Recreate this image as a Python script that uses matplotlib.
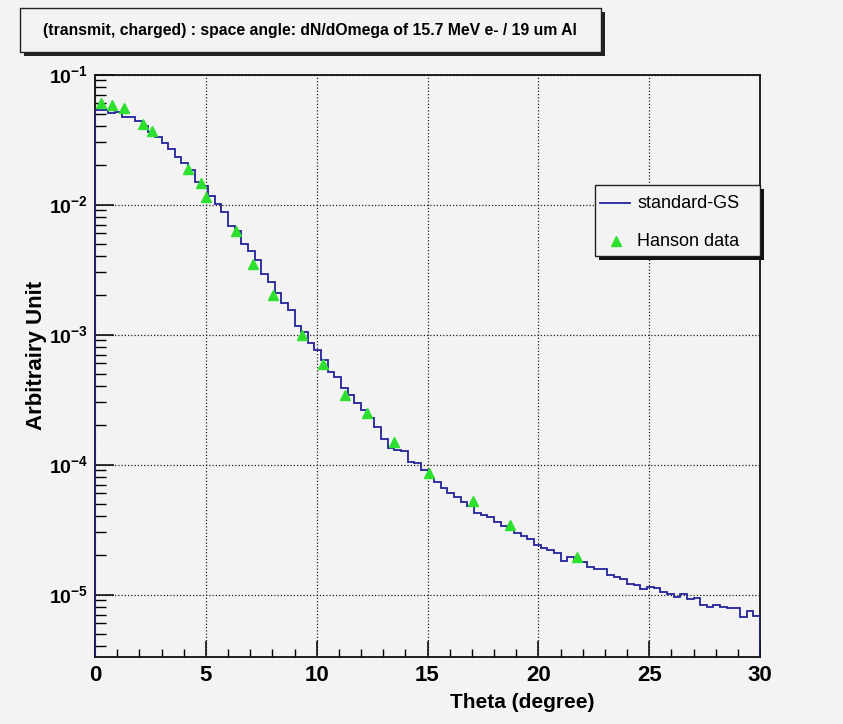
import numpy as np
import matplotlib
matplotlib.use('Agg')
import matplotlib.pyplot as plt
from matplotlib import font_manager
from matplotlib.patches import Rectangle
from matplotlib.lines import Line2D
from matplotlib.ticker import LogLocator, MultipleLocator, FuncFormatter, NullFormatter

# standard-GS histogram: 100 bins of 0.3 degree from 0 to 30 degree
bin_width = 0.3
gs_counts = [
    0.0530, 0.0530, 0.0505, 0.0514, 0.0468, 0.0468, 0.0437, 0.0404, 0.0363, 0.0330,
    0.0297, 0.0266, 0.0233, 0.0209, 0.0185, 0.0150, 0.0140, 0.0116, 0.0101, 0.0087,
    6.87e-3, 6.30e-3, 5.00e-3, 4.41e-3, 3.74e-3, 2.90e-3, 2.55e-3, 2.07e-3, 1.76e-3, 1.53e-3,
    1.16e-3, 1.05e-3, 8.65e-4, 7.60e-4, 6.36e-4, 5.18e-4, 4.68e-4, 3.85e-4, 3.42e-4, 2.99e-4,
    2.63e-4, 2.27e-4, 1.93e-4, 1.56e-4, 1.33e-4, 1.29e-4, 1.26e-4, 1.05e-4, 1.02e-4, 9.09e-5,
    7.83e-5, 7.38e-5, 6.56e-5, 6.00e-5, 5.58e-5, 5.17e-5, 4.79e-5, 4.26e-5, 4.09e-5, 3.98e-5,
    3.63e-5, 3.36e-5, 3.13e-5, 2.99e-5, 2.80e-5, 2.65e-5, 2.40e-5, 2.27e-5, 2.20e-5, 2.10e-5,
    1.81e-5, 1.96e-5, 1.88e-5, 1.77e-5, 1.62e-5, 1.58e-5, 1.57e-5, 1.41e-5, 1.36e-5, 1.31e-5,
    1.20e-5, 1.18e-5, 1.10e-5, 1.15e-5, 1.12e-5, 1.05e-5, 1.01e-5, 9.6e-6, 1.01e-5, 9.18e-6,
    9.33e-6, 8.3e-6, 8.05e-6, 8.3e-6, 8.05e-6, 7.9e-6, 7.83e-6, 6.68e-6, 7.5e-6, 6.84e-6,
]

hanson_theta = [0.27, 0.78, 1.32, 2.15, 2.56, 4.18, 4.77, 5.0, 6.35, 7.15,
                8.04, 9.32, 10.3, 11.3, 12.28, 13.49, 15.08, 17.06, 18.72, 21.73]
hanson_value = [0.0607, 0.0582, 0.0550, 0.0414, 0.0370, 0.0187, 0.0147, 0.0115, 6.3e-3, 3.47e-3,
                2.0e-3, 9.9e-4, 5.9e-4, 3.43e-4, 2.5e-4, 1.5e-4, 8.65e-5, 5.24e-5, 3.43e-5, 1.93e-5]

title_text = '(transmit, charged) : space angle: dN/dOmega of 15.7 MeV e- / 19 um Al'
x_title = 'Theta (degree)'
y_title = 'Arbitrairy Unit'
legend_labels = ['standard-GS', 'Hanson data']

names = {f.name for f in font_manager.fontManager.ttflist}
FONT = 'Liberation Sans Narrow' if 'Liberation Sans Narrow' in names else 'Liberation Sans'
plt.rcParams['font.family'] = [FONT, 'DejaVu Sans']
plt.rcParams['mathtext.fontset'] = 'custom'
plt.rcParams['mathtext.rm'] = FONT
plt.rcParams['mathtext.bf'] = FONT + ':bold'

W, H = 843, 724
BG = '#f3f3f3'
LINE_COL = '#23239c'
MARK_COL = '#2ee02e'


def fx(px):
    return px / W


def fy(py):
    return 1 - py / H


def main():
    fig = plt.figure(figsize=(W / 100, H / 100), dpi=100, facecolor=BG)
    ax = fig.add_axes([fx(95), fy(657), fx(760) - fx(95), fy(74.5) - fy(657)])
    ax.set_facecolor(BG)

    edges = np.arange(len(gs_counts) + 1) * bin_width
    ax.stairs(gs_counts, edges, color=LINE_COL, lw=1.3, zorder=3)
    ax.plot(hanson_theta, hanson_value, ls='none', marker='^', ms=6.5,
            color=MARK_COL, mec=MARK_COL, zorder=4)

    ax.set_yscale('log')
    ax.set_xlim(0, 30)
    ax.set_ylim(10 ** (-1 - (657 - 74.5) / 130), 0.1)

    ax.xaxis.set_major_locator(MultipleLocator(5))
    ax.xaxis.set_minor_locator(MultipleLocator(1))
    ax.yaxis.set_major_locator(LogLocator(base=10, numticks=10))
    ax.yaxis.set_minor_locator(LogLocator(base=10, subs=np.arange(2, 10), numticks=20))
    ax.yaxis.set_minor_formatter(NullFormatter())
    ax.yaxis.set_major_formatter(FuncFormatter(
        lambda v, p: r'$\mathbf{10^{%d}}$' % round(np.log10(v))))

    ax.tick_params(axis='x', which='major', direction='in', length=11.5, width=1.1,
                   labelsize=16, pad=6, top=False)
    ax.tick_params(axis='x', which='minor', direction='in', length=5.8, width=1.0, top=False)
    ax.tick_params(axis='y', which='major', direction='in', length=14, width=1.1,
                   labelsize=14, pad=5, right=False)
    ax.tick_params(axis='y', which='minor', direction='in', length=8, width=1.0, right=False)
    for lab in ax.get_xticklabels():
        lab.set_fontweight('bold')

    ax.grid(True, which='major', color='#222222', ls=(0, (1, 1.6)), lw=0.9)
    for s in ax.spines.values():
        s.set_linewidth(1.3)
        s.set_color('#111111')

    fig.text(fx(522), fy(702), x_title, ha='center', va='center',
             fontsize=15, fontweight='bold')
    fig.text(fx(37), fy(355), y_title, ha='center', va='center', rotation=90,
             fontsize=16, fontweight='bold')

    # title box with shadow
    fig.patches.append(Rectangle((fx(24), fy(56)), fx(601) - fx(20), fy(8) - fy(52),
                                 transform=fig.transFigure, facecolor='#222222',
                                 edgecolor='none', zorder=1))
    fig.patches.append(Rectangle((fx(20), fy(52)), fx(601) - fx(20), fy(8) - fy(52),
                                 transform=fig.transFigure, facecolor=BG,
                                 edgecolor='#222222', lw=1.0, zorder=2))
    fig.text(fx(310), fy(31), title_text, ha='center', va='center',
             fontsize=11.3, fontweight='bold', zorder=3)

    # legend box with shadow
    lx0, lx1, ly0, ly1 = 595, 760, 185, 256
    fig.patches.append(Rectangle((fx(lx0 + 4), fy(ly1 + 4)), fx(lx1) - fx(lx0),
                                 fy(ly0) - fy(ly1), transform=fig.transFigure,
                                 facecolor='#111111', edgecolor='none', zorder=5))
    fig.patches.append(Rectangle((fx(lx0), fy(ly1)), fx(lx1) - fx(lx0),
                                 fy(ly0) - fy(ly1), transform=fig.transFigure,
                                 facecolor=BG, edgecolor='#222222', lw=1.0, zorder=6))
    fig.lines.append(Line2D([fx(600), fx(630)], [fy(203), fy(203)],
                            transform=fig.transFigure, color=LINE_COL, lw=1.3, zorder=7))
    fig.lines.append(Line2D([fx(616)], [fy(241)], transform=fig.transFigure, ls='none',
                            marker='^', ms=6.5, color=MARK_COL, zorder=7))
    fig.text(fx(637), fy(204), legend_labels[0], ha='left', va='center', fontsize=13, zorder=8)
    fig.text(fx(637), fy(242), legend_labels[1], ha='left', va='center', fontsize=13, zorder=8)

    fig.savefig('out.png', dpi=100, facecolor=BG)


if __name__ == '__main__':
    main()
